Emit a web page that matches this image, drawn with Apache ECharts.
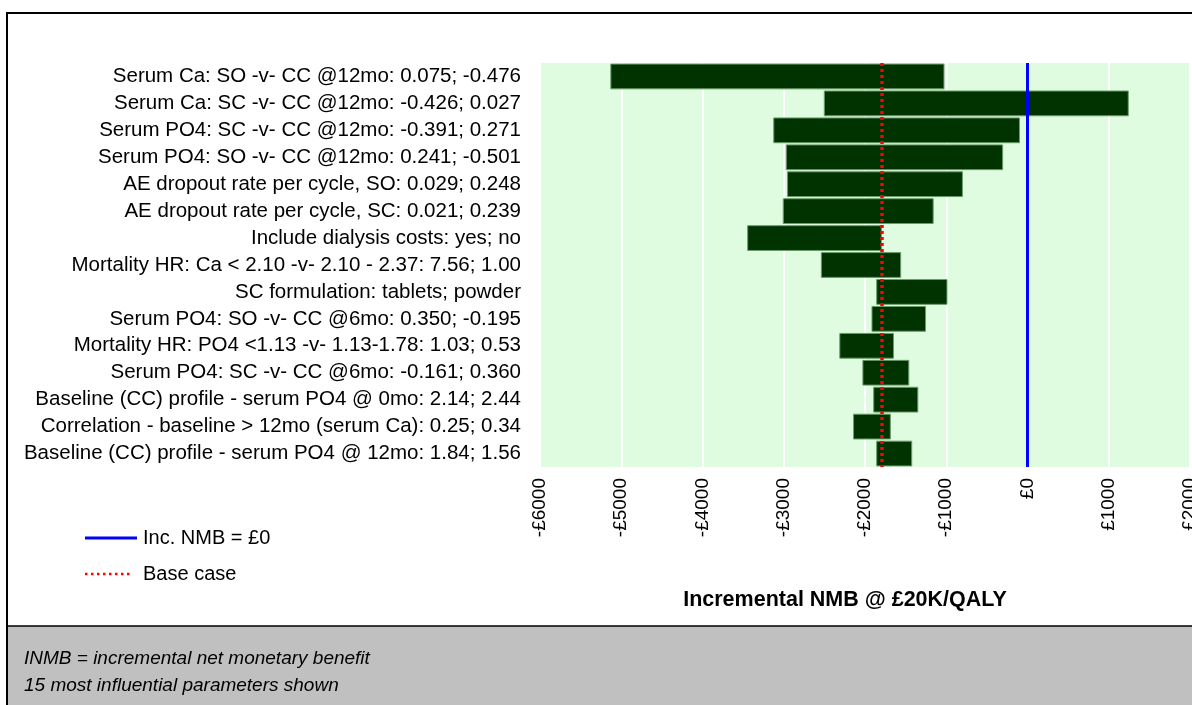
<!DOCTYPE html>
<html>
<head>
<meta charset="utf-8">
<script src="https://cdn.jsdelivr.net/npm/echarts@6/dist/echarts.min.js"></script>
<style>
html,body{margin:0;padding:0;background:#fff;}
#c{width:1192px;height:705px;}
</style>
</head>
<body>
<div id="c"></div>
<script>
const categories = [
  'Serum Ca: SO -v- CC @12mo: 0.075; -0.476',
  'Serum Ca: SC -v- CC @12mo: -0.426; 0.027',
  'Serum PO4: SC -v- CC @12mo: -0.391; 0.271',
  'Serum PO4: SO -v- CC @12mo: 0.241; -0.501',
  'AE dropout rate per cycle, SO: 0.029; 0.248',
  'AE dropout rate per cycle, SC: 0.021; 0.239',
  'Include dialysis costs: yes; no',
  'Mortality HR: Ca < 2.10 -v- 2.10 - 2.37: 7.56; 1.00',
  'SC formulation: tablets; powder',
  'Serum PO4: SO -v- CC @6mo: 0.350; -0.195',
  'Mortality HR: PO4 <1.13 -v- 1.13-1.78: 1.03; 0.53',
  'Serum PO4: SC -v- CC @6mo: -0.161; 0.360',
  'Baseline (CC) profile - serum PO4 @ 0mo: 2.14; 2.44',
  'Correlation - baseline > 12mo (serum Ca): 0.25; 0.34',
  'Baseline (CC) profile - serum PO4 @ 12mo: 1.84; 1.56'
];
const lowValues  = [-5128, -2501, -3123, -2969, -2953, -3006, -3444, -2537, -1856, -1914, -2310, -2026, -1893, -2141, -1856];
const highValues = [-1028,  1240,   -99,  -306,  -801, -1161, -1799, -1561,  -991, -1255, -1650, -1461, -1350, -1688, -1425];
const baseCase = -1800;
const zeroLine = 0;
const axisMin = -6000, axisMax = 2000, axisStep = 1000;
const xAxisTitle = 'Incremental NMB @ £20K/QALY';
const legendLabels = ['Inc. NMB = £0', 'Base case'];
const footnotes = ['INMB = incremental net monetary benefit', '15 most influential parameters shown'];

const FONT = '"Liberation Sans", Arial, sans-serif';
const tornadoData = categories.map((c, i) => [i, lowValues[i], highValues[i]]);

const chart = echarts.init(document.getElementById('c'), null, {renderer: 'canvas'});
chart.setOption({
  animation: false,
  backgroundColor: '#ffffff',
  grid: {
    left: 540, right: 2, top: 63, bottom: 238,
    outerBoundsMode: 'none', containLabel: false,
    show: true, backgroundColor: '#e0fce0', borderWidth: 0
  },
  xAxis: {
    type: 'value', min: axisMin, max: axisMax, interval: axisStep,
    axisLine: {show: false}, axisTick: {show: false},
    splitLine: {show: true, lineStyle: {color: '#ffffff', width: 2}},
    axisLabel: {
      rotate: 90, margin: 11, color: '#000', fontSize: 19, fontFamily: FONT,
      hideOverlap: false,
      formatter: v => (v < 0 ? '-£' + Math.abs(v) : '£' + v)
    }
  },
  yAxis: {
    type: 'category', data: categories, inverse: true,
    axisLine: {show: false}, axisTick: {show: false}, splitLine: {show: false},
    axisLabel: {color: '#000', fontSize: 20.5, fontFamily: FONT, margin: 19, interval: 0, hideOverlap: false}
  },
  series: [{
    type: 'custom',
    data: tornadoData,
    encode: {x: [1, 2], y: 0},
    renderItem: function (params, api) {
      const yi = api.value(0);
      const lo = api.coord([api.value(1), yi]);
      const hi = api.coord([api.value(2), yi]);
      const h = api.size([0, 1])[1] * 0.92;
      return {
        type: 'rect',
        shape: {x: lo[0], y: lo[1] - h / 2, width: hi[0] - lo[0], height: h},
        style: {fill: '#003300', stroke: '#6a9a6a', lineWidth: 1}
      };
    },
    markLine: {
      silent: true, symbol: ['none', 'none'], label: {show: false}, z: 10,
      data: [
        {xAxis: zeroLine, lineStyle: {color: '#0000ff', width: 3, type: 'solid'}},
        {xAxis: baseCase, lineStyle: {color: '#ff0000', width: 3.5, type: [3, 3]}}
      ]
    }
  }],
  graphic: [
    {type: 'rect', z: 100, shape: {x: 7, y: 13, width: 1200, height: 720},
     style: {fill: 'none', stroke: '#000', lineWidth: 2}},
    {type: 'rect', z: 90, shape: {x: 7, y: 626, width: 1190, height: 90},
     style: {fill: '#c0c0c0', stroke: '#000', lineWidth: 1.5}},
    {type: 'text', z: 95, x: 24, y: 659,
     style: {text: footnotes[0], fill: '#000', font: 'italic 19px ' + FONT, verticalAlign: 'middle'}},
    {type: 'text', z: 95, x: 24, y: 686,
     style: {text: footnotes[1], fill: '#000', font: 'italic 19px ' + FONT, verticalAlign: 'middle'}},
    {type: 'line', shape: {x1: 85, y1: 538, x2: 137, y2: 538},
     style: {stroke: '#0000ff', lineWidth: 3}},
    {type: 'text', x: 143, y: 538,
     style: {text: legendLabels[0], fill: '#000', font: '20px ' + FONT, verticalAlign: 'middle'}},
    {type: 'line', shape: {x1: 85, y1: 574, x2: 131, y2: 574},
     style: {stroke: '#ff0000', lineWidth: 2.5, lineDash: [2.5, 3.5]}},
    {type: 'text', x: 143, y: 574,
     style: {text: legendLabels[1], fill: '#000', font: '20px ' + FONT, verticalAlign: 'middle'}},
    {type: 'text', z: 95, x: 845, y: 600,
     style: {text: xAxisTitle, fill: '#000', font: 'bold 21.5px ' + FONT, align: 'center', verticalAlign: 'middle'}}
  ]
});
</script>
</body>
</html>
